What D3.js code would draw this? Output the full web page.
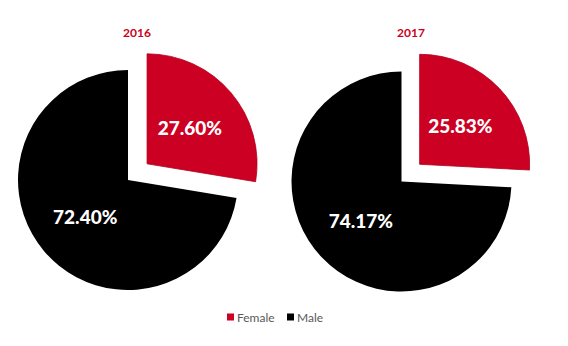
<!DOCTYPE html>
<html>
<head>
<meta charset="utf-8">
<script src="https://cdn.jsdelivr.net/npm/d3@7"></script>
<style>
  html, body { margin: 0; padding: 0; background: #fff; }
  svg { display: block; font-family: Lato, "Open Sans", sans-serif; }
</style>
</head>
<body>
<svg id="chart" width="568" height="346"></svg>
<script>
// Gender split per year
const years = ["2016", "2017"];
const categories = ["Female", "Male"];
const female = [27.60, 25.83];
const male = [72.40, 74.17];

const colors = d3.scaleOrdinal().domain(categories).range(["#cc0022", "#000000"]);

const svg = d3.select("#chart");
const radius = 110;
const explode = 25;
const centers = [[128, 180], [401.5, 181.5]];
const titleX = [137, 411];

const pie = d3.pie().sort(null).value(d => d.value);
const arc = d3.arc().innerRadius(0).outerRadius(radius);
const labelArc = d3.arc().innerRadius(radius * 0.51).outerRadius(radius * 0.51);

years.forEach((year, i) => {
  const data = [
    { cat: "Female", value: female[i] },
    { cat: "Male", value: male[i] }
  ];
  const arcs = pie(data);
  const g = svg.append("g").attr("transform", `translate(${centers[i][0]},${centers[i][1]})`);

  svg.append("text")
    .attr("x", titleX[i])
    .attr("y", 32)
    .attr("text-anchor", "middle")
    .attr("dominant-baseline", "central")
    .attr("fill", "#cc0022")
    .attr("font-weight", "bold")
    .attr("font-size", 12)
    .text(year);

  const slice = g.selectAll("g.slice").data(arcs).enter().append("g")
    .attr("class", "slice")
    .attr("transform", d => {
      if (d.data.cat !== "Female") return null;
      const a = (d.startAngle + d.endAngle) / 2;
      return `translate(${Math.sin(a) * explode},${-Math.cos(a) * explode})`;
    });

  slice.append("path")
    .attr("d", arc)
    .attr("fill", d => colors(d.data.cat))
    .attr("stroke", d => d.data.cat === "Female" ? "#b0001c" : "none")
    .attr("stroke-width", 0.8);

  slice.append("text")
    .attr("transform", d => `translate(${labelArc.centroid(d)})`)
    .attr("text-anchor", "middle")
    .attr("dominant-baseline", "central")
    .attr("fill", "#fff")
    .attr("font-weight", 900)
    .attr("font-size", 19)
    .text(d => d.data.value.toFixed(2) + "%");
});

// Legend
const legendX = [227, 287];
const legend = svg.selectAll("g.legend").data(categories).enter().append("g")
  .attr("class", "legend")
  .attr("transform", (d, i) => `translate(${legendX[i]},317)`);
legend.append("rect")
  .attr("x", 0).attr("y", -3.5)
  .attr("width", 7).attr("height", 7)
  .attr("fill", d => colors(d));
legend.append("text")
  .attr("x", 10).attr("y", 0)
  .attr("dominant-baseline", "central")
  .attr("fill", "#595959")
  .attr("font-size", 12)
  .text(d => d);
</script>
</body>
</html>
